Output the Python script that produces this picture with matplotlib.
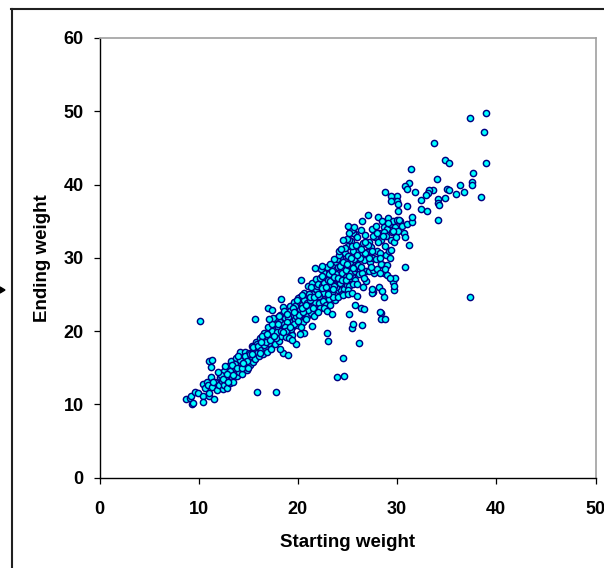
#!/usr/bin/env python3
"""Starting vs ending weight scatter."""

import matplotlib

matplotlib.use("Agg")
from matplotlib.lines import Line2D
from matplotlib.patches import Polygon
import matplotlib.pyplot as plt

X_TICKS = [0, 10, 20, 30, 40, 50]
Y_TICKS = [0, 10, 20, 30, 40, 50, 60]

# values, in chunks along the band
low_x = [8.7, 9.1, 9.2, 9.3, 9.4, 9.6, 9.9, 10.4, 10.4, 10.4, 10.8, 11.0, 11.0, 11.2, 11.5, 10.6, 10.9,
         11.3, 11.6, 11.8, 12.0, 12.1, 12.3, 12.4, 12.5, 12.6, 12.8, 12.9, 13.0, 13.1, 13.2, 13.3, 13.4,
         13.5, 13.6, 13.7, 13.8, 13.9, 14.0, 14.1, 14.2, 14.3, 14.4, 14.5, 14.6, 14.7, 14.8, 14.9, 15.0,
         15.1, 15.2, 15.3, 15.4, 15.5, 15.6, 15.7, 15.8, 15.9, 12.2, 12.7, 13.2, 13.7, 14.2, 14.7, 15.2,
         11.4, 11.9, 12.4, 12.9, 13.4, 13.9, 14.4, 14.9, 15.4, 15.9, 13.0, 13.5, 14.0, 14.5, 15.0, 15.5]
low_y = [10.7, 10.9, 11.2, 10.1, 10.2, 11.7, 11.6, 11.2, 10.3, 12.8, 13.1, 11.1, 11.6, 13.7, 10.8, 12.3, 12.6,
         12.4, 13.1, 11.9, 12.7, 13.8, 13.2, 12.1, 14.6, 12.6, 13.4, 12.3, 15.2, 14.1, 12.9, 15.9, 13.7,
         13.1, 14.8, 14.1, 16.4, 13.9, 15.2, 14.4, 17.1, 15.6, 14.2, 16.5, 15.0, 17.2, 15.7, 14.7, 16.2,
         17.0, 15.4, 16.6, 18.0, 15.8, 17.3, 16.2, 18.5, 17.0, 14.0, 15.3, 14.6, 15.5, 16.0, 16.6, 16.9,
         13.0, 14.4, 13.5, 14.2, 15.4, 15.0, 15.0, 15.9, 16.9, 18.2, 13.0, 14.0, 16.6, 15.6, 15.0, 17.8]

mid_x = [16.0, 16.1, 16.2, 16.3, 16.4, 16.5, 16.6, 16.7, 16.8, 16.9, 17.0, 17.1, 17.2, 17.3, 17.4, 17.5, 17.6,
         17.7, 17.8, 17.9, 18.0, 18.1, 18.2, 18.3, 18.4, 18.5, 18.6, 18.7, 18.8, 18.9, 19.0, 19.1, 19.2, 19.3,
         19.4, 19.5, 19.6, 19.7, 19.8, 19.9, 20.0, 20.1, 20.2, 20.3, 20.4, 20.5, 20.6, 20.7, 20.8, 20.9, 21.0,
         21.1, 21.2, 21.3, 21.4, 21.5, 21.6, 21.7, 21.8, 21.9, 16.2, 16.6, 17.0, 17.4, 17.8, 18.2, 18.6, 19.0,
         19.4, 19.8, 20.2, 20.6, 21.0, 21.4, 21.8, 16.8, 17.3, 17.9, 18.4, 18.9, 19.3, 19.7, 20.1, 20.5, 20.9,
         21.3, 21.7, 17.5, 18.1, 18.7, 19.2, 19.6, 20.0, 20.4, 20.8, 21.2, 21.6, 16.4, 17.1, 18.3, 18.8, 19.1,
         19.5, 19.9, 20.3, 20.7, 21.1, 21.5, 21.9, 18.5, 19.0, 19.8, 20.6, 21.4, 18.2, 18.6, 19.4, 20.2]
mid_y = [18.0, 16.6, 19.0, 17.4, 18.5, 16.9, 19.8, 17.8, 18.8, 17.2, 20.5, 18.4, 19.5, 17.6, 21.0, 19.0, 20.1,
         18.2, 21.8, 19.6, 20.6, 18.6, 22.2, 19.3, 21.0, 23.3, 20.0, 21.8, 19.2, 22.6, 20.4, 21.4, 23.4, 19.8,
         22.0, 20.7, 24.0, 21.7, 22.9, 20.8, 23.2, 21.6, 24.6, 22.4, 23.6, 21.3, 25.2, 22.9, 24.2, 22.0, 26.2,
         23.5, 24.8, 22.5, 26.6, 24.0, 25.6, 23.2, 27.1, 24.6, 17.0, 18.1, 19.2, 20.0, 19.0, 21.2, 21.0, 21.9,
         19.5, 22.0, 23.0, 24.3, 22.9, 25.0, 25.7, 18.5, 19.0, 19.9, 20.2, 21.2, 20.3, 23.4, 22.2, 22.6, 23.9,
         26.0, 24.0, 21.8, 22.0, 20.6, 22.8, 21.0, 24.5, 24.9, 21.6, 24.3, 22.0, 19.4, 21.6, 20.0, 20.0, 19.0,
         23.2, 24.2, 20.6, 23.4, 25.1, 23.2, 26.1, 17.0, 16.8, 18.2, 19.8, 20.7, 17.6, 22.8, 18.8, 19.6]

core_x = [22.0, 22.1, 22.2, 22.3, 22.4, 22.5, 22.6, 22.7, 22.8, 22.9, 23.0, 23.1, 23.2, 23.3, 23.4, 23.5, 23.6,
          23.7, 23.8, 23.9, 24.0, 24.1, 24.2, 24.3, 24.4, 24.5, 24.6, 24.7, 24.8, 24.9, 25.0, 25.1, 25.2, 25.3,
          25.4, 25.5, 25.6, 25.7, 25.8, 25.9, 22.2, 22.5, 22.8, 23.1, 23.4, 23.7, 24.0, 24.3, 24.6, 24.9, 25.2,
          25.5, 25.8, 22.3, 22.7, 23.1, 23.5, 23.9, 24.3, 24.7, 25.1, 25.5, 25.9, 22.1, 22.4, 22.9, 23.3, 23.6,
          23.8, 24.1, 24.4, 24.8, 25.0, 25.3, 25.7, 22.6, 23.0, 23.2, 23.7, 24.2, 24.5, 24.9, 25.4, 25.6, 22.0,
          22.6, 23.2, 23.8, 24.4, 25.0, 25.6, 22.4, 23.0, 23.6, 24.2, 24.8, 25.4, 23.4, 24.0, 24.6, 25.2, 25.8,
          22.9, 23.5, 24.1, 24.7, 25.3, 25.9, 24.3, 24.9, 25.5, 24.0, 24.5, 25.0, 25.5, 25.1, 25.7]
core_y = [26.4, 23.9, 27.2, 25.0, 26.1, 24.1, 28.0, 25.6, 27.0, 24.9, 28.6, 26.3, 27.5, 25.2, 29.0, 26.8, 28.0,
          25.9, 29.4, 27.1, 28.8, 26.0, 30.1, 27.6, 29.2, 26.6, 30.7, 28.2, 29.6, 27.0, 31.6, 28.8, 30.2, 27.3,
          32.3, 29.4, 31.0, 28.1, 33.2, 30.0, 23.1, 25.2, 23.6, 24.4, 25.4, 24.2, 25.6, 25.6, 25.8, 26.3, 26.2,
          27.5, 27.0, 28.5, 26.4, 27.8, 24.7, 29.8, 28.6, 30.6, 30.2, 31.6, 31.8, 24.8, 27.5, 28.8, 26.8, 29.8,
          27.8, 30.4, 28.0, 28.4, 29.0, 29.4, 29.9, 23.2, 25.0, 29.2, 27.2, 28.9, 29.4, 29.2, 30.0, 26.4, 22.6,
          26.6, 23.6, 26.0, 25.0, 25.6, 33.4, 28.9, 27.0, 26.2, 26.6, 27.4, 27.9, 28.2, 27.3, 27.0, 32.4, 28.2,
          22.8, 25.8, 31.0, 31.4, 34.1, 28.6, 31.2, 32.6, 33.8, 24.6, 24.9, 25.0, 25.2, 34.4, 34.2]

upper_x = [26.0, 26.1, 26.2, 26.3, 26.4, 26.5, 26.6, 26.7, 26.8, 26.9, 27.0, 27.1, 27.2, 27.3, 27.4, 27.5, 27.6,
           27.7, 27.8, 27.9, 28.0, 28.1, 28.2, 28.3, 28.4, 28.5, 28.6, 28.7, 28.8, 28.9, 29.0, 29.1, 29.2, 29.3,
           29.4, 29.5, 29.6, 29.7, 29.8, 29.9, 26.2, 26.5, 26.9, 27.2, 27.6, 28.0, 28.4, 28.7, 29.0, 29.4, 26.4,
           26.8, 27.4, 27.9, 28.3, 28.9, 29.3, 30.0, 30.1, 30.3, 30.5, 30.7, 31.0, 26.0, 26.3, 26.7, 27.1, 27.5,
           28.1, 28.6, 29.1, 29.6]
upper_y = [32.9, 29.0, 31.0, 28.4, 33.8, 30.5, 32.0, 29.7, 33.1, 28.2, 30.8, 35.9, 32.2, 29.4, 31.5, 34.0, 30.0,
           28.0, 32.8, 29.8, 31.0, 35.6, 33.4, 30.6, 32.4, 35.0, 29.0, 34.2, 31.6, 30.4, 33.9, 35.4, 31.0, 34.6,
           32.4, 33.5, 35.0, 32.1, 34.2, 32.8, 27.8, 27.9, 26.8, 28.2, 28.4, 28.5, 29.2, 33.5, 29.0, 31.1, 28.8,
           30.7, 28.7, 34.3, 30.0, 33.0, 30.0, 35.1, 33.6, 35.0, 34.4, 33.4, 34.6, 26.4, 30.0, 27.3, 31.7, 30.9,
           32.1, 33.0, 34.8, 33.7]

# extra cells where the band in the reference is fuller
fill_x = [16.3, 16.9, 17.2, 17.6, 18.0, 18.5, 18.9, 19.2, 19.6, 20.0, 20.4, 20.8, 21.2, 21.6, 22.0, 22.4, 22.8, 23.2,
          23.6, 24.0, 24.4, 24.8, 25.2, 25.6, 26.0, 26.4, 26.8, 27.2, 27.6, 28.0, 20.35, 21.7, 24.55, 25.2, 26.5,
          23.4, 26.4, 28.4, 28.65, 27.6, 28.2, 26.6, 26.0, 31.2, 30.8, 31.5]
fill_y = [18.5, 19.6, 18.8, 19.4, 21.0, 19.9, 22.3, 20.5, 22.6, 21.4, 23.1, 23.6, 24.6, 24.7, 25.0, 25.9, 26.0, 26.8,
          27.4, 27.2, 27.0, 27.0, 27.5, 28.6, 30.4, 31.2, 32.2, 30.0, 33.0, 33.4, 27.0, 28.6, 32.5, 33.4, 35.0,
          22.4, 23.1, 22.5, 24.7, 25.3, 26.0, 26.0, 24.8, 31.7, 32.8, 34.9]

stray_x = [10.1, 15.7, 15.9, 17.8, 18.3, 17.0, 17.4, 11.0, 11.3, 11.2, 25.5, 24.5, 23.9, 24.6, 25.6, 23.0, 22.9,
           25.8, 26.7, 25.2, 26.2, 27.5, 28.3, 28.4, 28.7, 29.0, 29.6, 29.7, 29.8, 30.8, 28.3, 28.8, 29.3, 29.7,
           37.3, 28.8, 26.5, 27.5, 28.5]
stray_y = [21.4, 21.6, 11.7, 11.7, 24.4, 23.2, 22.9, 15.9, 16.1, 15.1, 20.4, 16.4, 13.8, 13.9, 21.0, 18.6, 19.8,
           23.5, 23.0, 22.3, 18.4, 25.2, 22.6, 21.6, 27.9, 27.6, 26.7, 25.6, 27.2, 28.7, 28.0, 28.5, 27.3, 26.2,
           24.6, 21.6, 20.8, 25.8, 25.5]

top_x = [39.0, 37.3, 38.8, 33.7, 34.8, 35.2, 39.0, 31.4, 37.7, 34.0, 37.6, 37.6, 36.3, 31.2, 30.8, 31.0, 28.8, 31.8,
         33.6, 33.2, 33.1, 32.9, 35.0, 35.2, 36.7, 35.9, 38.5, 34.8, 34.1, 32.4, 30.0, 30.0, 30.1, 31.0, 34.1, 34.2,
         32.4, 33.0, 31.5, 34.1, 29.4, 30.1, 29.4, 30.2]
top_y = [49.8, 49.1, 47.2, 45.7, 43.4, 42.9, 42.9, 42.1, 41.6, 40.8, 40.3, 40.0, 40.0, 40.2, 39.8, 39.4, 39.0, 39.0,
         39.3, 39.2, 38.8, 38.6, 39.4, 39.2, 39.0, 38.7, 38.3, 38.2, 38.0, 37.9, 38.5, 37.7, 37.3, 37.1, 37.5, 37.2,
         36.6, 36.4, 35.6, 35.1, 38.4, 36.4, 37.7, 35.2]

plt.rcParams["font.family"] = ["Liberation Sans", "DejaVu Sans"]

fig = plt.figure(figsize=(6.04, 5.68), dpi=100)
ax = fig.add_axes([99.5 / 604, (568 - 477.7) / 568, 496 / 604, 439.7 / 568])

for xs, ys in [(low_x, low_y), (mid_x, mid_y), (core_x, core_y), (upper_x, upper_y), (fill_x, fill_y),
               (stray_x, stray_y), (top_x, top_y)]:
    ax.scatter(xs, ys, s=20, facecolor="#00FFFF", edgecolor="#000080", linewidth=1.05, clip_on=False, zorder=3)

ax.set_xlim(0, 50)
ax.set_ylim(0, 60)
ax.set_xticks(X_TICKS)
ax.set_yticks(Y_TICKS)
ax.tick_params(axis="both", length=4.5, width=0.9, color="black", labelsize=13)
ax.tick_params(axis="x", pad=12.5)
ax.tick_params(axis="y", pad=7)
for label in ax.get_xticklabels() + ax.get_yticklabels():
    label.set_fontweight("bold")
for side in ["left", "bottom"]:
    ax.spines[side].set_linewidth(1.0)
    ax.spines[side].set_color("black")
for side in ["top", "right"]:
    ax.spines[side].set_linewidth(1.2)
    ax.spines[side].set_color("#A0A0A0")
ax.set_xlabel("Starting weight", fontsize=13.5, fontweight="bold", labelpad=11)
ax.set_ylabel("Ending weight", fontsize=13.5, fontweight="bold", labelpad=9)

# outer chart frame, cropped by the image on the right and bottom
frame_color = "#202020"
fig.add_artist(Line2D([11.5 / 604, 11.5 / 604], [0, 1 - 9 / 568], color=frame_color, lw=1.5))
fig.add_artist(Line2D([11 / 604, 1], [1 - 9 / 568, 1 - 9 / 568], color=frame_color, lw=1.5))
# small arrowhead left of the frame
fig.add_artist(Polygon([[0, 1 - 287 / 568], [5 / 604, 1 - 290 / 568], [0, 1 - 293 / 568]],
                       closed=True, color="black", transform=fig.transFigure))

fig.savefig("out.png", dpi=100)
plt.close(fig)
